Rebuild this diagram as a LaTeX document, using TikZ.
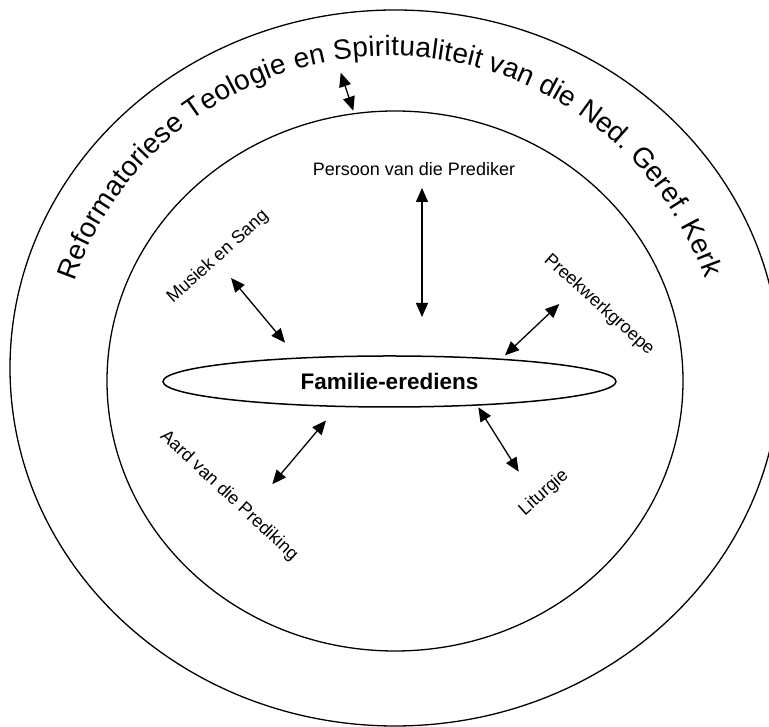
\documentclass[tikz,border=0pt]{standalone}
\usepackage{fontspec}
\setmainfont{Liberation Sans}
\usetikzlibrary{arrows.meta,shapes.geometric,decorations.text}

\begin{document}
\begin{tikzpicture}[x=1pt, y=1pt,
        pyl/.style={<->, >={Triangle[length=14pt, width=12pt]}, line width=1.3pt},
        etiket/.style={font=\fontsize{18}{20}\selectfont, inner sep=0pt}]
        \useasboundingbox (0,0) rectangle (769,727);
        % buitesirkel en binnesirkel
        \draw [line width=1.3pt] (395,359) ellipse [x radius=385, y radius=358];
        \draw [line width=1.3pt] (395,346) ellipse [x radius=288, y radius=270];
        % boogteks
        \path [decorate, decoration={text along path, text align=fit to path,
            text={|\fontsize{28}{30}\selectfont|Reformatoriese Teologie en Spiritualiteit van die Ned. Geref. Kerk}}]
            ([shift={(390,337)}]161:334) arc [start angle=161, end angle=19.5, radius=334];
        % middel
        \node [ellipse, draw, line width=1.5pt, minimum width=453pt, minimum height=51pt, inner sep=0pt,
            font=\fontsize{22.5}{24}\selectfont\bfseries] (fam) at (389.5,345.5) {Familie-erediens};
        % etikette
        \node [etiket] (persoon) at (414,558) {Persoon van die Prediker};
        \node [etiket, rotate=42] (musiek) at (218,470) {Musiek en Sang};
        \node [etiket, rotate=-42] (preek) at (599,422) {Preekwerkgroepe};
        \node [etiket, rotate=-43] (aard) at (229,231) {Aard van die Prediking};
        \node [etiket, rotate=41.5] (liturgie) at (544,234) {Liturgie};
        % punte
        \coordinate (bo-a) at (340.7,654.3);
        \coordinate (bo-b) at (353.3,616.3);
        \coordinate (persoon-a) at (422,539);
        \coordinate (persoon-b) at (422,410);
        \coordinate (musiek-a) at (231,449);
        \coordinate (musiek-b) at (285,384.3);
        \coordinate (preek-a) at (559.3,423);
        \coordinate (preek-b) at (505,371.7);
        \coordinate (aard-a) at (326,306.5);
        \coordinate (aard-b) at (272.3,242.8);
        \coordinate (liturgie-a) at (478.3,319.7);
        \coordinate (liturgie-b) at (518.7,255.3);
        % pyle
        \draw [pyl] (bo-a) -- (bo-b);
        \draw [pyl] (persoon-a) -- (persoon-b);
        \draw [pyl] (musiek-a) -- (musiek-b);
        \draw [pyl] (preek-a) -- (preek-b);
        \draw [pyl] (aard-a) -- (aard-b);
        \draw [pyl] (liturgie-a) -- (liturgie-b);
\end{tikzpicture}
\end{document}
